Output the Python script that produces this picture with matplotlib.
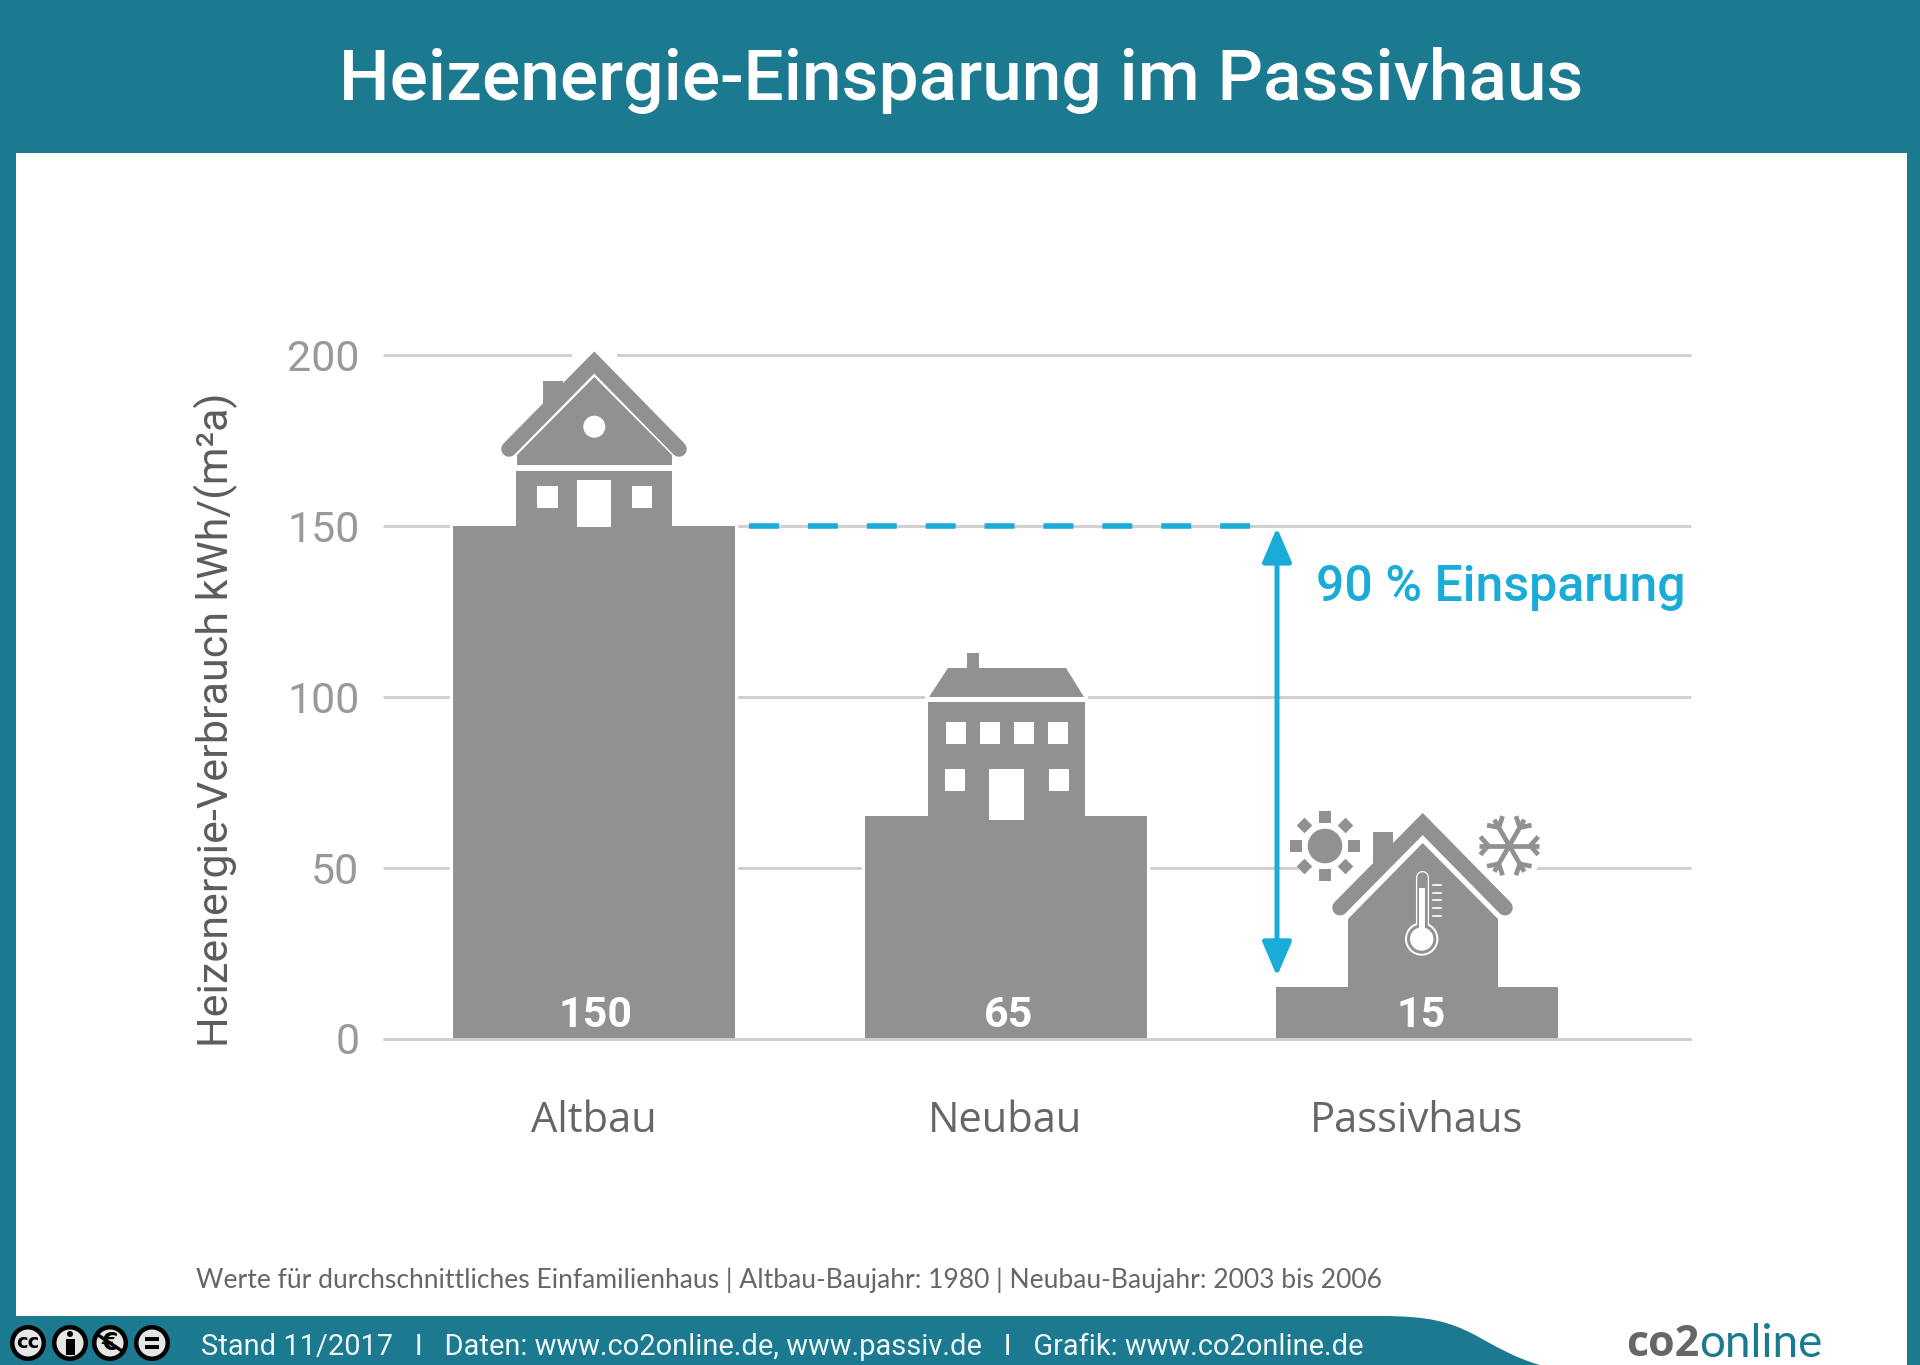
import numpy as np
import matplotlib
matplotlib.use("Agg")
import matplotlib.pyplot as plt
import matplotlib.patheffects as pe
from matplotlib.patches import Rectangle, Circle, Polygon, PathPatch, RegularPolygon
from matplotlib.path import Path

## values
categories = ["Altbau", "Neubau", "Passivhaus"]
consumption = [150, 65, 15]
y_ticks = [0, 50, 100, 150, 200]
saving_from = 150
saving_to = 15

TEAL = "#1b7a8f"
GREY = "#919191"
BLUE = "#1aacd8"
W, H = 1920, 1365

fig = plt.figure(figsize=(W / 100, H / 100), dpi=100, facecolor=TEAL)


def px_axes(z):
    a = fig.add_axes([0, 0, 1, 1], zorder=z)
    a.set_xlim(0, W)
    a.set_ylim(H, 0)
    a.axis("off")
    return a


def rect(a, x0, y0, x1, y1, color="white", **kw):
    a.add_patch(Rectangle((x0, y0), x1 - x0, y1 - y0, fc=color, ec="none", **kw))


## background panel and footer swoosh
bg = px_axes(0)
rect(bg, 16, 153, 1907, 1316)
verts = [(1380, 1316), (1430, 1316), (1450, 1322), (1475, 1335), (1495, 1346), (1515, 1358),
         (1540, 1365), (1907, 1365), (1907, 1316), (1380, 1316)]
codes = [Path.MOVETO] + [Path.CURVE4] * 6 + [Path.LINETO] * 3
bg.add_patch(PathPatch(Path(verts, codes), fc="white", ec="none"))

## the chart itself
x0, x1, ytop, ybot = 383, 1691, 355, 1038.5
ax = fig.add_axes([x0 / W, 1 - ybot / H, (x1 - x0) / W, (ybot - ytop) / H], zorder=1)
ax.patch.set_alpha(0)
step = 411.5
ax.set_xlim((x0 - 594) / step, (x1 - 594) / step)
ax.set_ylim(0, 200)
for s in ax.spines.values():
    s.set_visible(False)
ax.set_yticks(y_ticks)
ax.set_xticks(range(len(categories)))
ax.set_xticklabels(categories, family="Open Sans", fontsize=30, color="#666666")
ax.tick_params(axis="x", length=0, pad=44)
ax.tick_params(axis="y", length=0, pad=17, labelsize=31, labelcolor="#999999")
for t in ax.get_yticklabels():
    t.set_family("Roboto")
ax.grid(axis="y", color="#cfcfcf", lw=2.1, zorder=0)
ax.set_axisbelow(True)
for g in ax.get_ygridlines():
    g.set_clip_on(False)
    g.set_solid_capstyle("butt")

bars = ax.bar(range(len(categories)), consumption, width=282 / step, color=GREY, zorder=2)
for b in bars:
    b.set_path_effects([pe.withStroke(linewidth=4.5, foreground="white")])
ax.axhline(0, color="#cfcfcf", lw=2.1, zorder=3, clip_on=False, solid_capstyle="butt")

ax.set_ylabel("Heizenergie-Verbrauch kWh/(m²a)", family="Roboto", fontsize=31, color="#5c5c5c")
ax.yaxis.set_label_coords(-0.111, 0.467)

## white numbers in the bars, slightly off centre like the original
for i, (v, dx) in enumerate(zip(consumption, [1, 3, 4])):
    ax.annotate(str(v), (i, 0), xytext=(dx, 23), textcoords="offset pixels", ha="center", va="center",
                family="Roboto", fontweight="bold", fontsize=31, color="white", zorder=4)

## dashed 150 line and the arrow
ax.plot([(749 - 594) / step, (1255 - 594) / step], [saving_from, saving_from], color=BLUE, lw=4,
        dashes=(5.4, 5.2), dash_capstyle="butt", zorder=4)
arrow_x = (1277 - 594) / step
ax.annotate("", xy=(arrow_x, saving_from - 0.5), xytext=(arrow_x, saving_to + 3.2),
            arrowprops=dict(arrowstyle="<|-|>,head_length=2.1,head_width=0.9", color=BLUE, lw=3.6,
                            shrinkA=0, shrinkB=0), zorder=5)
ax.text((1685 - 594) / step, 132.2, "90 % Einsparung", ha="right", va="center", family="Roboto",
        fontweight="medium", fontsize=36, color=BLUE, zorder=5)

## houses and texts in pixel coordinates
ov = px_axes(2)


def roof(apex_x, apex_y, end_x0, end_x1, end_y):
    ov.plot([end_x0, apex_x, end_x1], [end_y, apex_y, end_y], color=GREY, lw=11.2,
            solid_capstyle="round", solid_joinstyle="miter", zorder=3)


## Altbau
rect(ov, 572, 345, 617, 364, zorder=1)
rect(ov, 543, 381, 563, 404, GREY, zorder=2)
roof(594.3, 362.5, 509, 679, 449)
ov.add_patch(Polygon([(594.3, 377), (672, 455), (672, 465), (517, 465), (517, 455)], fc=GREY, ec="none", zorder=3))
ov.add_patch(Circle((594.3, 426.7), 11, fc="white", ec="none", zorder=4))
rect(ov, 516, 471, 672, 528, GREY, zorder=3)
rect(ov, 577, 480, 611, 527, zorder=4)
rect(ov, 537, 486, 558, 508, zorder=4)
rect(ov, 632, 486, 652, 508, zorder=4)

## Neubau
rect(ov, 967, 653, 979, 670, GREY, zorder=3)
ov.add_patch(Polygon([(948, 668), (1066, 668), (1084, 697), (929, 697)], fc=GREY, ec="none", zorder=3))
rect(ov, 925, 695, 1088, 702, zorder=2)
rect(ov, 928, 702, 1085, 818, GREY, zorder=3)
for wx in [(946, 966), (980, 1000), (1014, 1034), (1048, 1068)]:
    rect(ov, wx[0], 722, wx[1], 744, zorder=4)
rect(ov, 945, 769, 965, 791, zorder=4)
rect(ov, 1049, 769, 1069, 791, zorder=4)
rect(ov, 989, 769, 1024, 820, zorder=4)

## Passivhaus
ov.add_patch(Circle((1325, 846), 35, fc="white", ec="none", zorder=1))
ov.add_patch(Circle((1509, 846), 36, fc="white", ec="none", zorder=1))
rect(ov, 1340, 860, 1505, 875, zorder=1)
rect(ov, 1373, 832, 1393, 865, GREY, zorder=2)
roof(1422.7, 824, 1340, 1505, 907.7)
ov.add_patch(Polygon([(1422.7, 843), (1498, 919), (1498, 987), (1348, 987), (1348, 919)], fc=GREY, ec="none", zorder=3))

## thermometer
tx = 1421.7
ov.plot([tx, tx], [877, 930], color="white", lw=9.4, solid_capstyle="round", zorder=4)
ov.add_patch(Circle((tx, 939), 16.7, fc="white", ec="none", zorder=4))
ov.plot([tx, tx], [877, 930], color=GREY, lw=7.6, solid_capstyle="round", zorder=5)
ov.add_patch(Circle((tx, 939), 14.7, fc=GREY, ec="none", zorder=5))
ov.plot([tx, tx], [888, 935], color="white", lw=4.3, solid_capstyle="butt", zorder=6)
ov.add_patch(Circle((tx, 939), 11.7, fc="white", ec="none", zorder=6))
for ty in [885, 892.7, 900, 907.7, 915.7]:
    ov.plot([1433, 1441], [ty, ty], color="white", lw=1.2, zorder=5)

## sun
ov.add_patch(Circle((1325, 846), 17.3, fc=GREY, ec="none", zorder=3))
for k in range(8):
    ang = k * np.pi / 4
    ov.add_patch(RegularPolygon((1325 + 29 * np.cos(ang), 846 + 29 * np.sin(ang)), 4, radius=7.8,
                                orientation=ang + np.pi / 4, fc=GREY, ec="none", zorder=3))

## snowflake
for k in range(6):
    ang = k * np.pi / 3
    c, s = np.cos(ang), np.sin(ang)
    cx, cy = 1509.3, 845.7
    ov.plot([cx, cx + 30 * c], [cy, cy + 30 * s], color=GREY, lw=3.4, solid_capstyle="butt", zorder=3)
    bx, by = cx + 21 * c, cy + 21 * s
    for off in (-0.85, 0.85):
        ov.plot([bx, bx + 12 * np.cos(ang + off)], [by, by + 12 * np.sin(ang + off)], color=GREY, lw=3.4,
                solid_capstyle="butt", zorder=3)

## title, note, footer
ov.text(961, 81, "Heizenergie-Einsparung im Passivhaus", ha="center", va="center", color="white",
        family="Roboto", fontweight="medium", fontsize=51.3)
ov.text(196, 1280, "Werte für durchschnittliches Einfamilienhaus | Altbau-Baujahr: 1980 | Neubau-Baujahr: 2003 bis 2006",
        ha="left", va="center", family="Lato", fontsize=19.1, color="#666666")
ov.text(201, 1346.5, "Stand 11/2017   I   Daten: www.co2online.de, www.passiv.de   I   Grafik: www.co2online.de",
        ha="left", va="center", family="Roboto", fontsize=20.9, color="#eef5f7")

## licence badges
badge_x = [28, 70, 110, 152]
for bx in badge_x:
    ov.add_patch(Circle((bx, 1343), 18, fc="black", ec="none"))
    ov.add_patch(Circle((bx, 1343), 13.5, fc="#e6e6e6", ec="none"))
ov.text(badge_x[0], 1342, "cc", ha="center", va="center", fontsize=14, fontweight="bold", color="black", family="DejaVu Sans")
ov.add_patch(Circle((badge_x[1], 1334), 3, fc="black", ec="none"))
rect(ov, badge_x[1] - 4.5, 1339, badge_x[1] + 4.5, 1355, "black")
ov.text(badge_x[2], 1343, "€", ha="center", va="center", fontsize=17, fontweight="bold", color="black", family="DejaVu Sans")
ov.plot([badge_x[2] - 12, badge_x[2] + 12], [1335, 1351], color="black", lw=2.4)
rect(ov, badge_x[3] - 7, 1337, badge_x[3] + 7, 1341, "black")
rect(ov, badge_x[3] - 7, 1345, badge_x[3] + 7, 1349, "black")

## logo
ov.text(1699, 1344, "co2", ha="right", va="center", family="Open Sans", fontweight="bold", fontsize=31, color="#666666")
ov.text(1699, 1344, "online", ha="left", va="center", family="Lato", fontsize=33, color=TEAL)

fig.savefig("out.png", dpi=100, facecolor=TEAL)
